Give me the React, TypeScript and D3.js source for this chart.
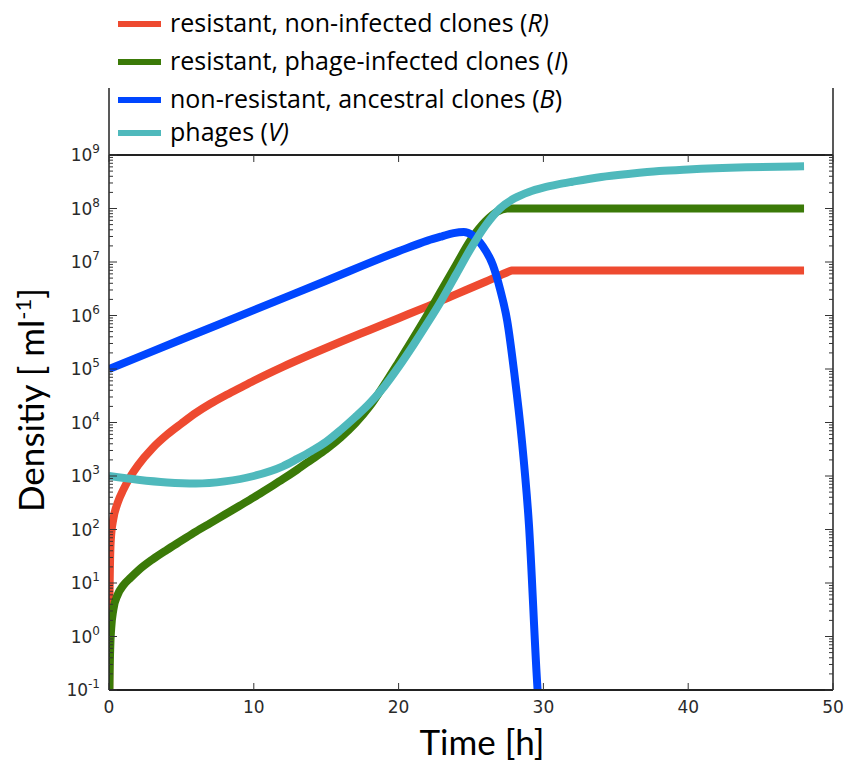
import React from "react";
import * as d3 from "d3";

// Population densities over time, stored as log10(density per ml)
const rTimes = [0, 0.02, 0.04, 0.08, 0.15, 0.3, 0.6, 1, 1.5, 2, 3, 4, 5, 6, 7, 8, 9, 10, 12, 14, 16, 18, 20, 22, 24, 26, 27.7, 27.8, 48];
const rLog = [-3, 0, 0.8, 1.5, 1.9, 2.2, 2.5, 2.75, 3.0, 3.2, 3.52, 3.77, 3.98, 4.18, 4.35, 4.5, 4.64, 4.78, 5.04, 5.28, 5.51, 5.73, 5.95, 6.17, 6.4, 6.63, 6.83, 6.84, 6.84];

const iTimes = [0, 0.03, 0.08, 0.15, 0.3, 0.6, 1, 1.5, 2, 3, 4, 5, 6, 7, 8, 9, 10, 11, 12, 13, 14, 15, 16, 17, 18, 19, 20, 21, 22, 23, 24, 25, 26, 26.8, 27.5, 48];
const iLog = [-3, -1, -0.25, 0.15, 0.5, 0.78, 0.96, 1.1, 1.23, 1.44, 1.62, 1.79, 1.96, 2.12, 2.28, 2.44, 2.6, 2.77, 2.94, 3.12, 3.31, 3.5, 3.72, 3.98, 4.3, 4.7, 5.13, 5.57, 6.02, 6.49, 6.96, 7.42, 7.76, 7.94, 8.0, 8.0];

const bTimes = [0, 5, 10, 15, 20, 22, 23, 23.8, 24.5, 25.1, 25.8, 26.5, 27, 27.5, 28, 28.5, 29, 29.6, 29.9];
const bLog = [5.0, 5.55, 6.1, 6.65, 7.2, 7.4, 7.48, 7.54, 7.56, 7.5, 7.3, 6.95, 6.5, 5.9, 4.9, 3.7, 2.1, -1, -2];

const vTimes = [0, 2, 4, 6, 8, 10, 12, 13, 14, 15, 16, 17, 18, 19, 20, 21, 22, 23, 24, 25, 26, 27, 28, 29, 30, 31, 32, 34, 36, 38, 40, 44, 48];
const vLog = [3.0, 2.93, 2.88, 2.86, 2.9, 3.0, 3.18, 3.32, 3.47, 3.64, 3.86, 4.1, 4.36, 4.67, 5.04, 5.44, 5.86, 6.3, 6.78, 7.26, 7.68, 8.0, 8.19, 8.31, 8.39, 8.45, 8.5, 8.59, 8.65, 8.7, 8.73, 8.77, 8.79];

const seriesNames = [
  { text: "resistant, non-infected clones (", italic: "R)", tail: "" },
  { text: "resistant, phage-infected clones (", italic: "I", tail: ")" },
  { text: "non-resistant, ancestral clones (", italic: "B", tail: ")" },
  { text: "phages (", italic: "V)", tail: "" },
];
const seriesColors = ["#ee4a30", "#3b7a08", "#0046ff", "#4fb9bc"];

const xTicks = [0, 10, 20, 30, 40, 50];
const yExponents = [-1, 0, 1, 2, 3, 4, 5, 6, 7, 8, 9];

const W = 845;
const H = 764;
const left = 109;
const right = 833;
const top = 155;
const bottom = 690;
const frameTop = 88;

export default function App() {
  const x = d3.scaleLinear().domain([0, 50]).range([left, right]);
  const y = d3.scaleLog().domain([0.1, 1e9]).range([bottom, top]);

  const line = d3
    .line<[number, number]>()
    .x((d) => x(d[0]))
    .y((d) => y(Math.pow(10, d[1])))
    .curve(d3.curveMonotoneX);

  const series: [number[], number[]][] = [
    [rTimes, rLog],
    [iTimes, iLog],
    [bTimes, bLog],
    [vTimes, vLog],
  ];
  const paths = series.map(([ts, ls]) => line(ts.map((t, i) => [t, ls[i]] as [number, number])) || "");

  const minorTicks: number[] = [];
  for (let e = -1; e < 9; e++) {
    for (let k = 2; k <= 9; k++) minorTicks.push(k * Math.pow(10, e));
  }

  const tickFont = "'DejaVu Sans', sans-serif";
  const titleFont = "Lato, 'Open Sans', sans-serif";
  const legendFont = "'Open Sans', Lato, sans-serif";

  return (
    <svg
      width={W}
      height={H}
      viewBox={`0 0 ${W} ${H}`}
      style={{ position: "absolute", left: 0, top: 0, background: "#fff" }}
    >
      <defs>
        <clipPath id="plotArea">
          <rect x={left} y={top} width={right - left} height={bottom - top} />
        </clipPath>
      </defs>
      <rect x={0} y={0} width={W} height={H} fill="#fff" />

      {/* curves */}
      <g clipPath="url(#plotArea)" fill="none" strokeLinejoin="round">
        {paths.map((d, i) => (
          <path key={i} d={d} stroke={seriesColors[i]} strokeWidth={8} />
        ))}
      </g>

      {/* frame */}
      <g stroke="#222" fill="none">
        <line x1={left} x2={left} y1={frameTop} y2={bottom} strokeWidth={1.5} />
        <line x1={right} x2={right} y1={frameTop} y2={bottom} strokeWidth={1.5} />
        <line x1={left} x2={right} y1={top} y2={top} strokeWidth={1.8} />
        <line x1={left} x2={right} y1={bottom} y2={bottom} strokeWidth={1.8} />
      </g>

      {/* x ticks on bottom and top spines */}
      <g stroke="#333" strokeWidth={1}>
        {xTicks.map((t) => (
          <g key={t}>
            <line x1={x(t)} x2={x(t)} y1={bottom} y2={bottom - 7} />
            <line x1={x(t)} x2={x(t)} y1={top} y2={top + 7} />
          </g>
        ))}
      </g>

      {/* y ticks on left and right spines */}
      <g stroke="#333" strokeWidth={1}>
        {yExponents.map((e) => {
          const yy = y(Math.pow(10, e));
          return (
            <g key={e}>
              <line x1={left} x2={left + 8} y1={yy} y2={yy} />
              <line x1={right} x2={right - 8} y1={yy} y2={yy} />
            </g>
          );
        })}
        {minorTicks.map((v, i) => {
          const yy = y(v);
          return (
            <g key={i}>
              <line x1={left} x2={left + 4} y1={yy} y2={yy} />
              <line x1={right} x2={right - 4} y1={yy} y2={yy} />
            </g>
          );
        })}
      </g>

      {/* y tick labels */}
      <g fontFamily={tickFont} fill="#2a2a2a">
        {yExponents.map((e) => (
          <text key={e} x={100} y={y(Math.pow(10, e)) + 6} textAnchor="end" fontSize={17}>
            <tspan>10</tspan>
            <tspan dy={-8} fontSize={12}>
              {e < 0 ? `-${-e}` : `${e}`}
            </tspan>
          </text>
        ))}
      </g>

      {/* x tick labels */}
      <g fontFamily={tickFont} fill="#2a2a2a" fontSize={17}>
        {xTicks.map((t) => (
          <text key={t} x={x(t)} y={713} textAnchor="middle">
            {t}
          </text>
        ))}
      </g>

      {/* axis titles */}
      <text x={482} y={755} textAnchor="middle" fontFamily={titleFont} fontSize={35} fill="#000">
        Time [h]
      </text>
      <text
        transform={`translate(44, 400) rotate(-90)`}
        textAnchor="middle"
        fontFamily={titleFont}
        fontSize={35}
        fill="#000"
      >
        <tspan>Densitiy [ ml</tspan>
        <tspan dy={-13} fontSize={22}>-1</tspan>
        <tspan dy={13}>]</tspan>
      </text>

      {/* legend */}
      <g fontFamily={legendFont} fontSize={25} fill="#000">
        {seriesNames.map((s, i) => {
          const ly = [24, 62, 100, 133][i];
          return (
            <g key={i}>
              <line x1={118} x2={161} y1={ly} y2={ly} stroke={seriesColors[i]} strokeWidth={6} />
              <text x={170} y={ly + 8}>
                <tspan>{s.text}</tspan>
                <tspan fontStyle="italic">{s.italic}</tspan>
                <tspan>{s.tail}</tspan>
              </text>
            </g>
          );
        })}
      </g>
    </svg>
  );
}
